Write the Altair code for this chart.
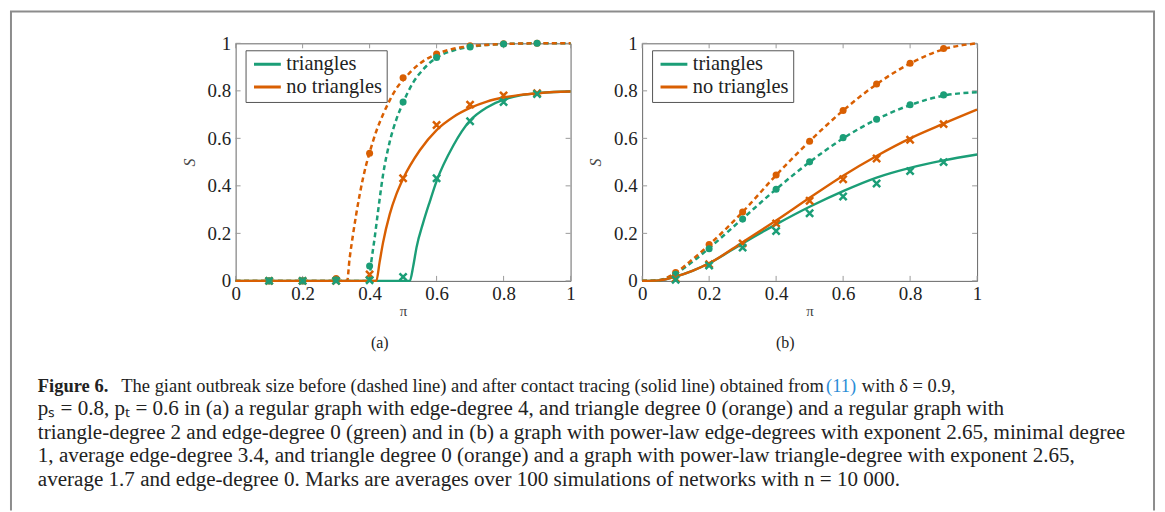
import altair as alt
import pandas as pd

# ---------------- data ----------------
TICKS = [0, 0.2, 0.4, 0.6, 0.8, 1.0]
MARK_X = [0.1, 0.2, 0.3, 0.4, 0.5, 0.6, 0.7, 0.8, 0.9]
GROUPS = ["triangles", "no triangles"]
COLORS = ["#1b9e77", "#d95f02"]

# panel (a): curves (dashed = before, solid = after)
A_NOTRI_BEFORE_X = [0, 0.333, 0.34, 0.35, 0.36, 0.37, 0.38, 0.39, 0.40, 0.42, 0.44, 0.46, 0.48, 0.50, 0.55, 0.60, 0.65, 0.70, 0.80, 0.90, 1.0]
A_NOTRI_BEFORE_S = [0, 0, 0.09, 0.19, 0.28, 0.36, 0.43, 0.49, 0.54, 0.63, 0.70, 0.76, 0.81, 0.845, 0.915, 0.955, 0.977, 0.988, 0.997, 1.0, 1.0]
A_TRI_BEFORE_X = [0, 0.398, 0.405, 0.415, 0.425, 0.44, 0.46, 0.48, 0.50, 0.53, 0.56, 0.60, 0.65, 0.70, 0.80, 0.90, 1.0]
A_TRI_BEFORE_S = [0, 0, 0.08, 0.18, 0.29, 0.445, 0.585, 0.68, 0.75, 0.835, 0.89, 0.94, 0.97, 0.985, 0.997, 1.0, 1.0]
A_NOTRI_AFTER_X = [0, 0.42, 0.43, 0.44, 0.46, 0.48, 0.50, 0.55, 0.60, 0.65, 0.70, 0.75, 0.80, 0.85, 0.90, 0.95, 1.0]
A_NOTRI_AFTER_S = [0, 0, 0.08, 0.16, 0.28, 0.365, 0.43, 0.55, 0.635, 0.69, 0.728, 0.755, 0.772, 0.783, 0.79, 0.795, 0.797]
A_TRI_AFTER_X = [0, 0.52, 0.53, 0.54, 0.56, 0.58, 0.60, 0.65, 0.70, 0.75, 0.80, 0.85, 0.90, 0.95, 1.0]
A_TRI_AFTER_S = [0, 0, 0.06, 0.14, 0.245, 0.335, 0.42, 0.57, 0.675, 0.73, 0.763, 0.781, 0.79, 0.795, 0.797]

# panel (a): simulation marks
A_TRI_CIRC = [0, 0, 0.005, 0.063, 0.753, 0.94, 0.985, 0.997, 1.0]
A_NOTRI_CIRC = [0, 0, 0.01, 0.537, 0.855, 0.955, 0.99, 0.998, 1.0]
A_TRI_CROSS = [0, 0, 0, 0.003, 0.017, 0.432, 0.672, 0.753, 0.787]
A_NOTRI_CROSS = [0, 0, 0, 0.027, 0.432, 0.656, 0.742, 0.781, 0.79]

# panel (b): curves
B_X = [0, 0.05, 0.1, 0.15, 0.2, 0.3, 0.4, 0.5, 0.6, 0.7, 0.8, 0.9, 1.0]
B_NOTRI_BEFORE_S = [0, 0.003, 0.035, 0.09, 0.152, 0.29, 0.445, 0.588, 0.717, 0.828, 0.915, 0.975, 1.0]
B_TRI_BEFORE_S = [0, 0.003, 0.03, 0.08, 0.138, 0.262, 0.386, 0.5, 0.6, 0.68, 0.74, 0.78, 0.794]
B_NOTRI_AFTER_S = [0, 0.002, 0.018, 0.042, 0.074, 0.163, 0.254, 0.35, 0.443, 0.526, 0.6, 0.662, 0.721]
B_TRI_AFTER_S = [0, 0.002, 0.018, 0.042, 0.074, 0.158, 0.238, 0.312, 0.378, 0.435, 0.476, 0.507, 0.532]

# panel (b): simulation marks
B_NOTRI_CIRC = [0.035, 0.153, 0.29, 0.446, 0.588, 0.717, 0.829, 0.916, 0.978]
B_TRI_CIRC = [0.028, 0.135, 0.26, 0.386, 0.501, 0.603, 0.68, 0.741, 0.783]
B_NOTRI_CROSS = [0.01, 0.07, 0.158, 0.242, 0.337, 0.428, 0.515, 0.594, 0.66]
B_TRI_CROSS = [0.005, 0.065, 0.14, 0.21, 0.285, 0.355, 0.41, 0.462, 0.5]

CAPTION_1A = "Figure 6."
CAPTION_1B = "The giant outbreak size before (dashed line) and after contact tracing (solid line) obtained from"
CAPTION_1C = "(11)"
CAPTION_1D = "with δ = 0.9,"
CAPTION_2 = "pₛ = 0.8, pₜ = 0.6 in (a) a regular graph with edge-degree 4, and triangle degree 0 (orange) and a regular graph with"
CAPTION_3 = "triangle-degree 2 and edge-degree 0 (green) and in (b) a graph with power-law edge-degrees with exponent 2.65, minimal degree"
CAPTION_4 = "1, average edge-degree 3.4, and triangle degree 0 (orange) and a graph with power-law triangle-degree with exponent 2.65,"
CAPTION_5 = "average 1.7 and edge-degree 0. Marks are averages over 100 simulations of networks with n = 10 000."

# ---------------- styling ----------------
SERIF = "Liberation Serif"
W, H = 337, 239
TICK_LEN = 5
ONE = pd.DataFrame({"a": [0]})
CROSS_PATH = "M-1,-1L1,1M-1,1L1,-1"


def curve_rows(group, kind, xs, ss):
    return [{"x": x, "S": s, "group": group, "kind": kind} for x, s in zip(xs, ss)]


def mark_rows(group, kind, ss):
    return [{"x": x, "S": s, "group": group, "kind": kind} for x, s in zip(MARK_X, ss)]


def txt(s, x, y, size=21.2, weight="normal", color="#222222", align="left"):
    return alt.Chart(ONE).mark_text(
        text=s, align=align, baseline="middle", font=SERIF, fontSize=size,
        fontWeight=weight, color=color
    ).encode(x=alt.value(x), y=alt.value(y))


def build_panel(curve_df, mark_df, extras):
    x_axis = alt.Axis(values=TICKS, format=".1~f", ticks=False, domain=False, grid=False,
                      labelFont=SERIF, labelFontSize=19, labelColor="#222222", labelPadding=4,
                      labelFlush=False, title="π", titleFont=SERIF, titleFontSize=15,
                      titleFontWeight="normal", titleColor="#444444", titlePadding=0)
    y_axis = alt.Axis(values=TICKS, format=".1~f", ticks=False, domain=False, grid=False,
                      labelFont=SERIF, labelFontSize=19, labelColor="#222222", labelPadding=5,
                      labelFlush=False, title="S", titleFont=SERIF, titleFontSize=16,
                      titleFontStyle="italic", titleFontWeight="normal", titleColor="#444444",
                      titlePadding=10)
    X = alt.X("x:Q", scale=alt.Scale(domain=[0, 1], nice=False, zero=False), axis=x_axis)
    Y = alt.Y("S:Q", scale=alt.Scale(domain=[0, 1], nice=False), axis=y_axis)
    cscale = alt.Scale(domain=GROUPS, range=COLORS)
    legend = alt.Legend(title=None, orient="none", legendX=10, legendY=7, symbolType="stroke",
                        symbolSize=729, symbolStrokeWidth=3, symbolOffset=3, clipHeight=20,
                        labelFont=SERIF, labelFontSize=20.5, labelColor="#222222", labelOffset=4,
                        strokeColor="#555555", fillColor="white", padding=4, rowPadding=2)

    xt = pd.DataFrame({"x": TICKS})
    yt = pd.DataFrame({"S": TICKS})
    tick_style = dict(color="#9a9a9a", strokeWidth=1)
    layers = [
        alt.Chart(xt).mark_rule(**tick_style).encode(x=X, y=alt.value(H), y2=alt.value(H - TICK_LEN)),
        alt.Chart(xt).mark_rule(**tick_style).encode(x=X, y=alt.value(0), y2=alt.value(TICK_LEN)),
        alt.Chart(yt).mark_rule(**tick_style).encode(y=Y, x=alt.value(0), x2=alt.value(TICK_LEN)),
        alt.Chart(yt).mark_rule(**tick_style).encode(y=Y, x=alt.value(W), x2=alt.value(W - TICK_LEN)),
    ]
    # dashed curves (before contact tracing), one layer per group
    for g, c in zip(GROUPS, COLORS):
        layers.append(
            alt.Chart(curve_df).transform_filter(
                f"datum.kind == 'before' && datum.group == '{g}'"
            ).mark_line(strokeDash=[5, 3.5], strokeWidth=2.5, interpolate="monotone", color=c)
            .encode(x=X, y=Y)
        )
    # solid curves (after contact tracing) carry the legend
    layers.append(
        alt.Chart(curve_df).transform_filter("datum.kind == 'after'").mark_line(
            strokeWidth=2.4, interpolate="monotone"
        ).encode(x=X, y=Y, color=alt.Color("group:N", scale=cscale, legend=legend))
    )
    # simulation marks
    for g, c in zip(GROUPS[::-1], COLORS[::-1]):
        layers.append(
            alt.Chart(mark_df).transform_filter(
                f"datum.kind == 'before' && datum.group == '{g}'"
            ).mark_point(shape="circle", filled=True, size=50, opacity=1, color=c)
            .encode(x=X, y=Y)
        )
    for g, c in zip(GROUPS[::-1], COLORS[::-1]):
        layers.append(
            alt.Chart(mark_df).transform_filter(
                f"datum.kind == 'after' && datum.group == '{g}'"
            ).mark_point(shape=CROSS_PATH, filled=False, size=52, strokeWidth=2.5, opacity=1, color=c)
            .encode(x=X, y=Y)
        )
    return alt.layer(*layers, *extras).properties(width=W, height=H)


# ---------------- panel (a) ----------------
a_curves = pd.DataFrame(
    curve_rows("no triangles", "before", A_NOTRI_BEFORE_X, A_NOTRI_BEFORE_S)
    + curve_rows("triangles", "before", A_TRI_BEFORE_X, A_TRI_BEFORE_S)
    + curve_rows("triangles", "after", A_TRI_AFTER_X, A_TRI_AFTER_S)
    + curve_rows("no triangles", "after", A_NOTRI_AFTER_X, A_NOTRI_AFTER_S)
)
a_marks = pd.DataFrame(
    mark_rows("no triangles", "before", A_NOTRI_CIRC)
    + mark_rows("triangles", "before", A_TRI_CIRC)
    + mark_rows("no triangles", "after", A_NOTRI_CROSS)
    + mark_rows("triangles", "after", A_TRI_CROSS)
)

FRAME = "#8c8c8c"
frame = [
    alt.Chart(ONE).mark_rule(color=FRAME, strokeWidth=2).encode(
        x=alt.value(-226), y=alt.value(-32), y2=alt.value(470)),
    alt.Chart(ONE).mark_rule(color=FRAME, strokeWidth=2).encode(
        x=alt.value(924), y=alt.value(-32), y2=alt.value(470)),
    alt.Chart(ONE).mark_rule(color=FRAME, strokeWidth=2).encode(
        x=alt.value(-227), x2=alt.value(925), y=alt.value(-32)),
]
L1 = 18.6
caption = [
    txt(CAPTION_1A, -199, 345, size=L1, weight="bold"),
    txt(CAPTION_1B, -115, 345, size=L1),
    txt(CAPTION_1C, 594, 345, size=L1, color="#2b8cd6"),
    txt(CAPTION_1D, 630, 345, size=L1),
    txt(CAPTION_2, -199, 368),
    txt(CAPTION_3, -199, 392),
    txt(CAPTION_4, -199, 415),
    txt(CAPTION_5, -199, 439),
    txt("(a)", 145, 302, size=16, align="center"),
]
panel_a = build_panel(a_curves, a_marks, frame + caption)

# ---------------- panel (b) ----------------
b_curves = pd.DataFrame(
    curve_rows("no triangles", "before", B_X, B_NOTRI_BEFORE_S)
    + curve_rows("triangles", "before", B_X, B_TRI_BEFORE_S)
    + curve_rows("triangles", "after", B_X, B_TRI_AFTER_S)
    + curve_rows("no triangles", "after", B_X, B_NOTRI_AFTER_S)
)
b_marks = pd.DataFrame(
    mark_rows("no triangles", "before", B_NOTRI_CIRC)
    + mark_rows("triangles", "before", B_TRI_CIRC)
    + mark_rows("no triangles", "after", B_NOTRI_CROSS)
    + mark_rows("triangles", "after", B_TRI_CROSS)
)
panel_b = build_panel(b_curves, b_marks, [txt("(b)", 144, 302, size=16, align="center")])

chart = alt.hconcat(panel_a, panel_b, spacing=72, bounds="flush").resolve_scale(
    color="independent"
).resolve_legend(color="independent").properties(
    padding=0
).configure_view(stroke="#666666", strokeWidth=1)

chart.save("out.html", embed_options={"renderer": "svg", "actions": False})
